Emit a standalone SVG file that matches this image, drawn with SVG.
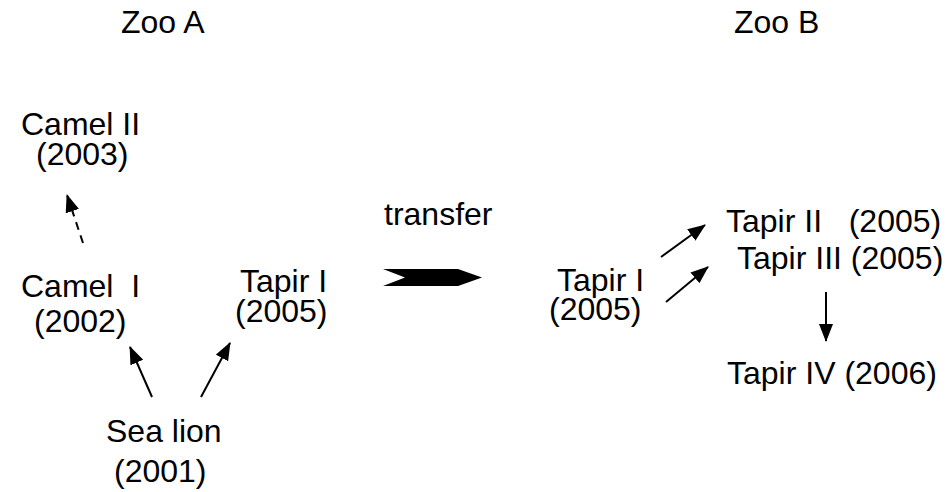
<svg xmlns="http://www.w3.org/2000/svg" width="947" height="492" viewBox="0 0 947 492">
<defs>
<style>
text{font-family:"Liberation Sans",Arial,sans-serif;font-size:32px;fill:#000;white-space:pre}
.c{stroke:#000;stroke-width:2;fill:none}
.d{stroke-dasharray:8,6}
</style>
<marker id="ah" viewBox="0 0 18 14" refX="17" refY="7" markerWidth="18" markerHeight="14" markerUnits="userSpaceOnUse" orient="auto">
<path d="M0,0 L18,7 L0,14 Z" fill="#000"/>
</marker>
</defs>
<rect width="947" height="492" fill="#fff"/>
<g id="zooA"><text x="121" y="33">Zoo A</text></g>
<g id="zooB"><text x="734" y="33">Zoo B</text></g>
<g id="camel2"><text x="21" y="135">Camel II</text><text x="36" y="165">(2003)</text></g>
<g id="camel1"><text x="21" y="297">Camel  I</text><text x="34" y="332">(2002)</text></g>
<g id="tapir1a"><text x="240" y="292">Tapir I</text><text x="235" y="322">(2005)</text></g>
<g id="sealion"><text x="106" y="442">Sea lion</text><text x="114" y="482">(2001)</text></g>
<g id="transfer"><text x="384" y="225">transfer</text>
<path d="M383,269 L458,269 L482,277.5 L458,286 L383,286 L405,277.5 Z" fill="#000"/></g>
<g id="tapir1b"><text x="557" y="291">Tapir I</text><text x="549" y="320">(2005)</text></g>
<g id="tapir2"><text x="726" y="232">Tapir II   (2005)</text></g>
<g id="tapir3"><text x="737" y="269">Tapir III (2005)</text></g>
<g id="tapir4"><text x="727" y="384">Tapir IV (2006)</text></g>
<g id="connectors">
<line class="c d" x1="83" y1="243" x2="67" y2="195" marker-end="url(#ah)"/>
<line class="c" x1="152" y1="397" x2="130" y2="347" marker-end="url(#ah)"/>
<line class="c" x1="201" y1="397" x2="230" y2="343" marker-end="url(#ah)"/>
<line class="c" x1="661" y1="257" x2="705" y2="225" marker-end="url(#ah)"/>
<line class="c" x1="666" y1="302" x2="708" y2="267" marker-end="url(#ah)"/>
<line class="c" x1="826" y1="292" x2="826" y2="341" marker-end="url(#ah)"/>
</g>
</svg>
